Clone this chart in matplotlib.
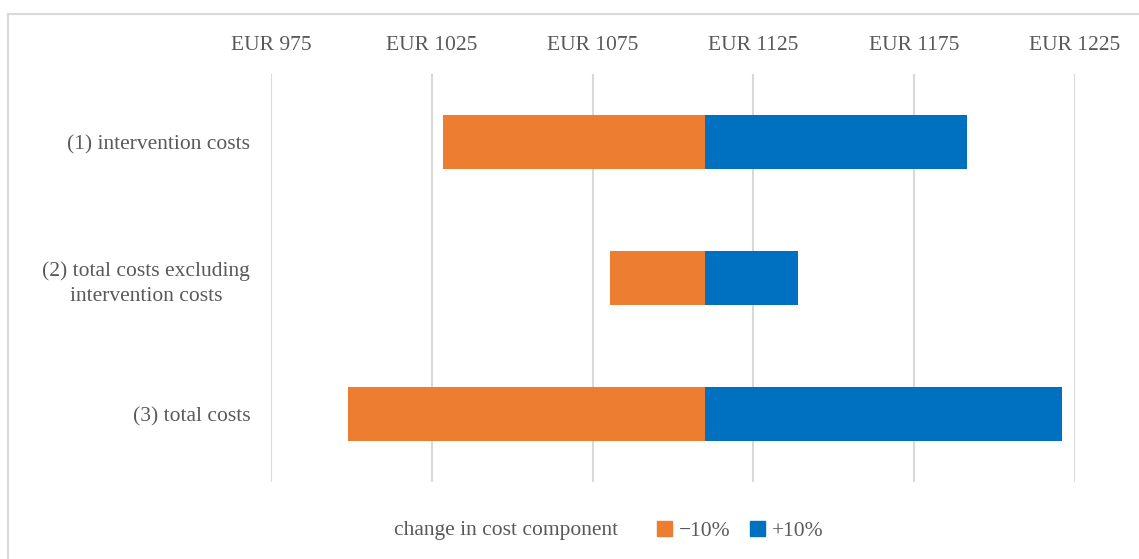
import matplotlib.pyplot as plt
from matplotlib.patches import Patch
from matplotlib.lines import Line2D

categories = ['(1) intervention costs',
              '(2) total costs excluding\nintervention costs',
              '(3) total costs']
base = 1110
low = [1028.5, 1080.5, 999]     # -10%
high = [1191.5, 1139, 1221]     # +10%
ticks = [975, 1025, 1075, 1125, 1175, 1225]
tick_labels = ['EUR %d' % t for t in ticks]

orange = '#ED7D31'
blue = '#0070C0'
txt = '#595959'
fs = 15.5

plt.rcParams['font.family'] = ['Liberation Serif', 'DejaVu Serif']

W, H = 1139, 559
fig = plt.figure(figsize=(W / 100, H / 100), dpi=100)
ax = fig.add_axes([271 / W, 1 - 482 / H, (1075 - 271) / W, (482 - 74) / H])

ys = range(len(categories))
for y, lo, hi in zip(ys, low, high):
    ax.barh(y, base - lo, left=lo, height=0.4, color=orange)
    ax.barh(y, hi - base, left=base, height=0.4, color=blue)

ax.set_xlim(975, 1225)
ax.set_ylim(2.5, -0.5)
ax.set_xticks(ticks)
ax.set_xticklabels(tick_labels)
ax.xaxis.tick_top()
ax.set_yticks(list(ys))
ax.set_yticklabels(categories, ha='right', multialignment='center', linespacing=1.45)
ax.tick_params(axis='both', length=0, labelsize=fs, labelcolor=txt)
ax.tick_params(axis='x', pad=14)
ax.tick_params(axis='y', pad=15)
ax.grid(axis='x', color='#D9D9D9', linewidth=1.5)
ax.set_axisbelow(True)
for s in ax.spines.values():
    s.set_visible(False)

# outer chart border (left and top visible)
fig.add_artist(Line2D([8 / W, 8 / W], [0, 1 - 14 / H], color='#D9D9D9', lw=1.5))
fig.add_artist(Line2D([8 / W, 1], [1 - 14 / H, 1 - 14 / H], color='#D9D9D9', lw=1.5))

# legend
fig.text(618 / W, 1 - 531 / H, 'change in cost component', ha='right', va='center',
         fontsize=fs, color=txt)
handles = [Patch(color=orange, label='\u221210%'), Patch(color=blue, label='+10%')]
fig.legend(handles=handles, loc='center left', bbox_to_anchor=(638 / W, 1 - 531 / H),
           ncol=2, frameon=False, fontsize=fs, labelcolor=txt, handlelength=0.7,
           handleheight=0.7, handletextpad=0.3, columnspacing=0.9)

fig.savefig('out.png', dpi=100)
